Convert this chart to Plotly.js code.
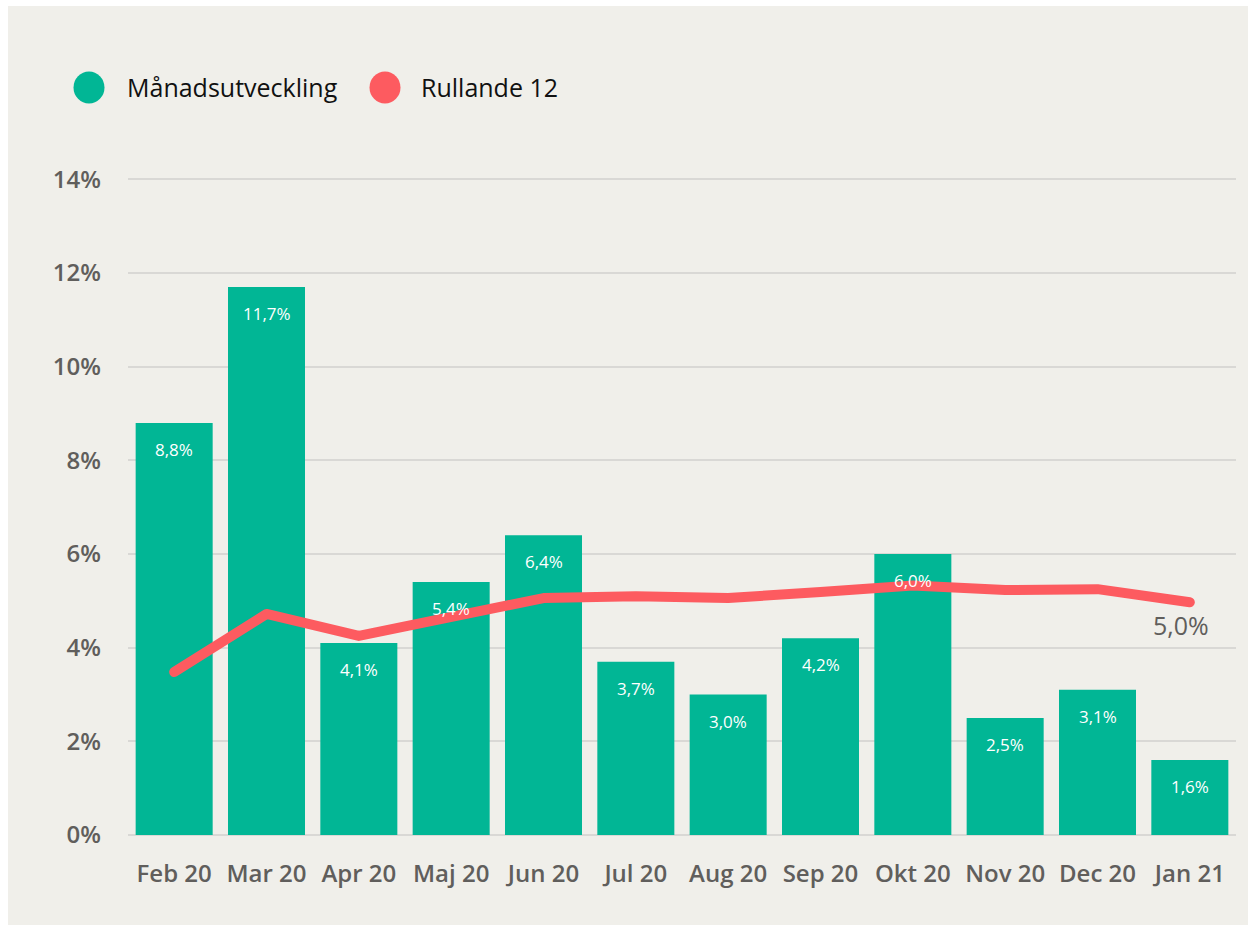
<!DOCTYPE html>
<html><head><meta charset="utf-8">
<script src="https://cdn.plot.ly/plotly-3.0.1.min.js"></script>
<style>
html,body{margin:0;padding:0;background:#ffffff;width:1250px;height:926px;overflow:hidden}
#chart{position:absolute;left:8px;top:6px;width:1240px;height:919px}
.scatterlayer path.js-line{stroke-linecap:round !important;stroke-linejoin:round !important}
</style></head>
<body><div id="chart"></div>
<script>
const months = ["Feb 20","Mar 20","Apr 20","Maj 20","Jun 20","Jul 20","Aug 20","Sep 20","Okt 20","Nov 20","Dec 20","Jan 21"];
const monthly = [8.8, 11.7, 4.1, 5.4, 6.4, 3.7, 3.0, 4.2, 6.0, 2.5, 3.1, 1.6];
const rolling12 = [3.48, 4.72, 4.25, 4.63, 5.06, 5.10, 5.06, 5.19, 5.33, 5.23, 5.25, 4.97];
const seriesNames = ["Månadsutveckling", "Rullande 12"];
const yTicks = [0, 2, 4, 6, 8, 10, 12, 14];

const teal = "#01b695";
const red = "#fd5b60";
const bg = "#f0efea";
const fmt = v => v.toFixed(1).replace(".", ",") + "%";

const traces = [
  {type:"bar", x: months, y: monthly, name: seriesNames[0], marker:{color: teal}, showlegend:false, hoverinfo:"none"},
  {type:"scatter", mode:"lines", x: months, y: rolling12, name: seriesNames[1], line:{color: red, width: 10}, showlegend:false, hoverinfo:"none"}
];

const annotations = monthly.map((v, i) => ({
  x: months[i], y: v, xref:"x", yref:"y", text: fmt(v), showarrow:false,
  yanchor:"top", yshift:-13, font:{family:"Open Sans", size:17, color:"#ffffff", weight:500}
}));
annotations.push({
  x: months[months.length-1], y: rolling12[rolling12.length-1], xref:"x", yref:"y",
  text: fmt(Math.round(rolling12[rolling12.length-1]*10)/10), showarrow:false,
  yanchor:"top", xanchor:"center", xshift:-9, yshift:-4,
  font:{family:"Open Sans", size:25, color:"#605e5c"}
});
// manual legend
const legendY = 1 + (163.6 - 81) / (829 - 163.6);
annotations.push({xref:"paper", yref:"paper", x:(117-120)/1108, y:legendY, xanchor:"left", yanchor:"middle",
  text: seriesNames[0], showarrow:false, font:{family:"Open Sans", size:25, color:"#111111"}});
annotations.push({xref:"paper", yref:"paper", x:(411-120)/1108, y:legendY, xanchor:"left", yanchor:"middle",
  text: seriesNames[1], showarrow:false, font:{family:"Open Sans", size:25, color:"#111111"}});

const circ = (cx, color) => ({type:"circle", xref:"paper", yref:"paper", xsizemode:"pixel", ysizemode:"pixel",
  xanchor: cx, yanchor: legendY, x0:-15.5, x1:15.5, y0:-16, y1:16, fillcolor: color, line:{width:0}});
const shapes = [circ((81-120)/1108, teal), circ((377-120)/1108, red)];

const layout = {
  width:1240, height:919,
  paper_bgcolor: bg, plot_bgcolor: bg,
  margin:{l:120, r:12, t:163.6, b:90},
  bargap: 0.166,
  showlegend:false,
  xaxis:{type:"category", tickfont:{family:"Open Sans", size:24, color:"#605e5c", weight:600},
    showgrid:false, zeroline:false, showline:false, ticks:"", ticklabelstandoff:22, fixedrange:true},
  yaxis:{range:[0,14.2], tickvals: yTicks, ticktext: yTicks.map(t => t + "%"),
    tickfont:{family:"Open Sans", size:24, color:"#605e5c", weight:600},
    gridcolor:"#d9d8d5", gridwidth:2, zeroline:true, zerolinecolor:"#d9d8d5", zerolinewidth:2,
    showline:false, ticks:"", ticklabelstandoff:26, fixedrange:true},
  annotations, shapes,
  font:{family:"Open Sans"}
};
Plotly.newPlot("chart", traces, layout, {displayModeBar:false, staticPlot:true});
</script></body></html>
